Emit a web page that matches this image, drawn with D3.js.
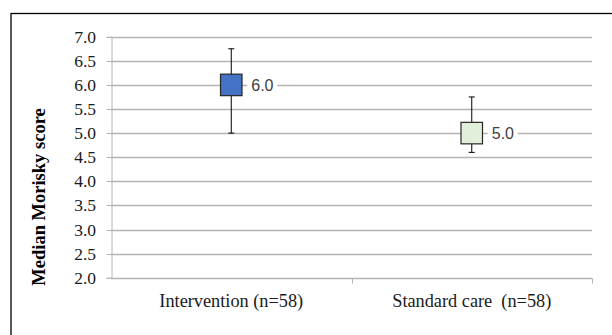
<!DOCTYPE html>
<html>

<head>
  <meta charset="utf-8">
  <script src="https://d3js.org/d3.v7.min.js"></script>
  <style>
    body {
      margin: 0;
      background: #fff;
    }
  </style>
</head>

<body>
  <div id="chart"></div>
  <script>
    // values
    var groups = ["Intervention (n=58)", "Standard care  (n=58)"];
    var medians = [6.0, 5.0];
    var lows = [5.0, 4.6];
    var highs = [6.75, 5.75];
    var fills = ["#4472C4", "#E2EFDA"];
    var yTicks = [2.0, 2.5, 3.0, 3.5, 4.0, 4.5, 5.0, 5.5, 6.0, 6.5, 7.0];

    var width = 612, height = 335;
    var plotLeft = 111, plotRight = 592, plotTop = 36.7, plotBottom = 277.7;
    var serif = "Liberation Serif";

    var svg = d3.select("#chart").append("svg")
      .attr("width", width)
      .attr("height", height);

    // outer frame, runs off the right and bottom edge
    svg.append("rect")
      .attr("x", 11).attr("y", 13.5)
      .attr("width", 640).attr("height", 360)
      .attr("fill", "none")
      .attr("stroke", "#000")
      .attr("stroke-width", 1.3);

    var x = d3.scaleBand().domain(groups).range([plotLeft, plotRight]);
    var y = d3.scaleLinear().domain([2, 7]).range([plotBottom, plotTop]);

    // gridlines
    svg.append("g")
      .selectAll("line")
      .data(yTicks.slice(1))
      .join("line")
      .attr("x1", plotLeft).attr("x2", plotRight)
      .attr("y1", d => Math.round(y(d)) + 0.5)
      .attr("y2", d => Math.round(y(d)) + 0.5)
      .attr("stroke", "#b4b4b4")
      .attr("stroke-width", 1.3);

    // y axis
    var yAxis = svg.append("g")
      .attr("transform", "translate(" + (plotLeft + 0.5) + ",0)")
      .attr("font-family", serif)
      .call(d3.axisLeft(y).tickValues(yTicks).tickFormat("").tickSize(5));
    yAxis.attr("font-family", serif).attr("font-size", 17.5);
    yAxis.select(".domain").attr("stroke", "#b4b4b4");
    yAxis.selectAll(".tick line").attr("stroke", "#b4b4b4");
    yAxis.selectAll(".tick").attr("transform", d => "translate(0," + (Math.round(y(d)) + 0.5) + ")");
    yAxis.selectAll(".tick text").remove();

    svg.append("g")
      .selectAll("text")
      .data(yTicks)
      .join("text")
      .attr("x", plotLeft - 15)
      .attr("y", d => Math.round(y(d)) + 0.5)
      .attr("dy", "0.34em")
      .attr("text-anchor", "end")
      .attr("font-family", serif)
      .attr("font-size", 17.5)
      .attr("fill", "#1a1a1a")
      .text(d3.format(".1f"));

    // x axis with ticks between categories
    var xg = svg.append("g")
      .attr("transform", "translate(0," + (Math.round(plotBottom) + 0.5) + ")");
    xg.append("line")
      .attr("x1", plotLeft).attr("x2", plotRight)
      .attr("stroke", "#b4b4b4").attr("stroke-width", 1.3);
    xg.selectAll(".sep")
      .data(groups)
      .join("line")
      .attr("class", "sep")
      .attr("x1", d => Math.round(x(d) + x.bandwidth()) + 0.5)
      .attr("x2", d => Math.round(x(d) + x.bandwidth()) + 0.5)
      .attr("y1", 0).attr("y2", 5)
      .attr("stroke", "#b4b4b4");
    xg.selectAll("text")
      .data(groups)
      .join("text")
      .attr("x", d => x(d) + x.bandwidth() / 2)
      .attr("y", 28)
      .attr("text-anchor", "middle")
      .attr("font-family", serif)
      .attr("font-size", 18.3)
      .style("white-space", "pre")
      .attr("fill", "#1a1a1a")
      .text(d => d);

    // axis title
    svg.append("text")
      .attr("transform", "translate(45,197) rotate(-90)")
      .attr("text-anchor", "middle")
      .attr("font-family", serif)
      .attr("font-size", 18.5)
      .attr("font-weight", "bold")
      .text("Median Morisky score");

    var boxW = 21.5, capW = 6;

    var marks = svg.append("g")
      .selectAll("g")
      .data(groups)
      .join("g")
      .attr("transform", d => "translate(" + (x(d) + x.bandwidth() / 2) + ",0)");

    // whiskers
    marks.append("line")
      .attr("x1", 0).attr("x2", 0)
      .attr("y1", (d, i) => y(highs[i]))
      .attr("y2", (d, i) => y(lows[i]))
      .attr("stroke", "#000");
    marks.append("line")
      .attr("x1", -capW / 2).attr("x2", capW / 2)
      .attr("y1", (d, i) => y(highs[i]))
      .attr("y2", (d, i) => y(highs[i]))
      .attr("stroke", "#000");
    marks.append("line")
      .attr("x1", -capW / 2).attr("x2", capW / 2)
      .attr("y1", (d, i) => y(lows[i]))
      .attr("y2", (d, i) => y(lows[i]))
      .attr("stroke", "#000");

    // median markers
    marks.append("rect")
      .attr("x", -boxW / 2)
      .attr("y", (d, i) => y(medians[i]) - boxW / 2)
      .attr("width", boxW).attr("height", boxW)
      .attr("fill", (d, i) => fills[i])
      .attr("stroke", "#262626")
      .attr("stroke-width", 1.2);

    // data labels
    marks.append("rect")
      .attr("x", 16)
      .attr("y", (d, i) => y(medians[i]) - 10)
      .attr("width", 30).attr("height", 20)
      .attr("fill", "#fff");
    marks.append("text")
      .attr("x", 20)
      .attr("y", (d, i) => y(medians[i]))
      .attr("dy", "0.36em")
      .attr("font-family", "Liberation Sans")
      .attr("font-size", 16)
      .attr("fill", "#404040")
      .text((d, i) => d3.format(".1f")(medians[i]));
  </script>
</body>

</html>
